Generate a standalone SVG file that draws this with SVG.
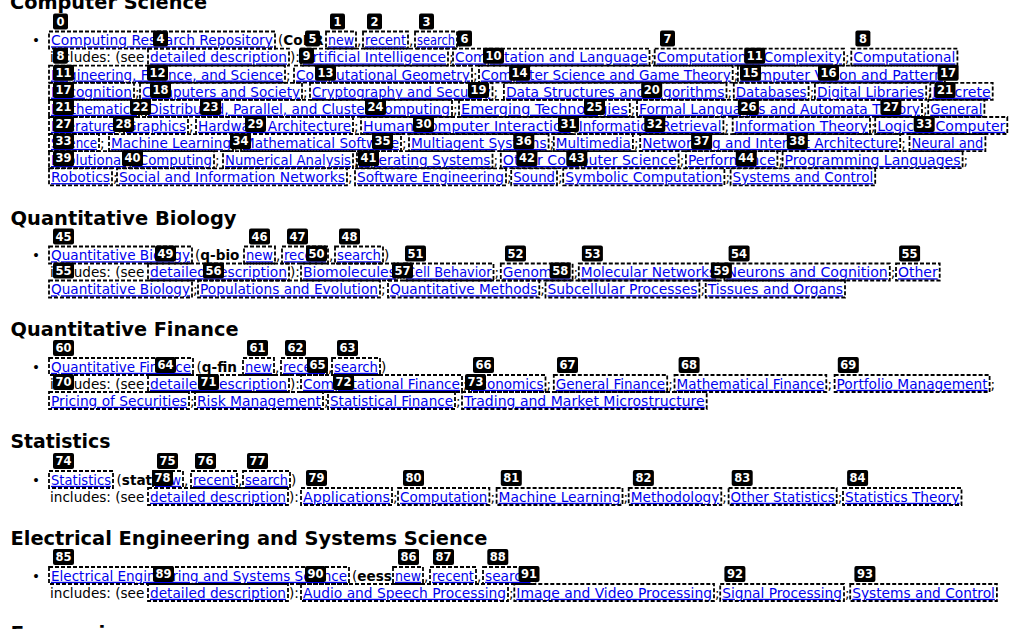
<svg xmlns="http://www.w3.org/2000/svg" width="1024" height="629" viewBox="0 0 1024 629">
<style>
text{font-family:"DejaVu Sans","Liberation Sans",sans-serif}
.t{font-size:13.6px;fill:#000}
.a{font-size:13.6px;fill:#0000ee;text-decoration:underline}
.h{font-size:20px;font-weight:bold;fill:#000}
.b{fill:none;stroke:#000;stroke-width:1.8;stroke-dasharray:4 2}
.k{fill:#000}
.n{font-size:11.5px;font-weight:bold;fill:#fff;text-anchor:middle}
</style>
<rect width="1024" height="629" fill="#fff"/>
<g id="headings">
<text class="h" x="10" y="8.5" textLength="197" lengthAdjust="spacingAndGlyphs">Computer Science</text>
<text class="h" x="10.5" y="225" textLength="226" lengthAdjust="spacingAndGlyphs">Quantitative Biology</text>
<text class="h" x="10.5" y="336" textLength="228" lengthAdjust="spacingAndGlyphs">Quantitative Finance</text>
<text class="h" x="10.5" y="448" textLength="100" lengthAdjust="spacingAndGlyphs">Statistics</text>
<text class="h" x="10.5" y="545" textLength="477" lengthAdjust="spacingAndGlyphs">Electrical Engineering and Systems Science</text>
<text class="h" x="10.5" y="640">Economics</text>
</g>
<g id="cs">
<text class="t" x="32" y="45.3">•</text>
<text class="a" x="51" y="45.3" textLength="222" lengthAdjust="spacingAndGlyphs">Computing Research Repository</text>
<text class="t" x="278" y="45.3">(<tspan font-weight="bold">CoRR</tspan></text>
<text class="a" x="328" y="45.3" textLength="26" lengthAdjust="spacingAndGlyphs">new</text>
<text class="t" x="357" y="45.3">,</text>
<text class="a" x="365" y="45.3" textLength="41" lengthAdjust="spacingAndGlyphs">recent</text>
<text class="t" x="409" y="45.3">,</text>
<text class="a" x="417" y="45.3" textLength="38" lengthAdjust="spacingAndGlyphs">search</text>
<text class="t" x="458" y="45.3">)</text>
<rect class="b" x="49" y="31.5" width="226" height="17"/>
<rect class="b" x="326" y="31.5" width="30" height="17"/>
<rect class="b" x="363" y="31.5" width="45" height="17"/>
<rect class="b" x="415" y="31.5" width="42" height="17"/>

<text class="t" x="50" y="62.4">includes: (see</text>
<text class="a" x="150" y="62.4" textLength="137" lengthAdjust="spacingAndGlyphs">detailed description</text>
<text class="t" x="290" y="62.4">):</text>
<text class="a" x="303" y="62.4" textLength="143" lengthAdjust="spacingAndGlyphs">Artificial Intelligence</text>
<text class="t" x="449" y="62.4">;</text>
<text class="a" x="455" y="62.4" textLength="192.5" lengthAdjust="spacingAndGlyphs">Computation and Language</text>
<text class="t" x="650.5" y="62.4">;</text>
<text class="a" x="656.7" y="62.4" textLength="185.3" lengthAdjust="spacingAndGlyphs">Computational Complexity</text>
<text class="t" x="845" y="62.4">;</text>
<text class="a" x="853.3" y="62.4" textLength="102.1" lengthAdjust="spacingAndGlyphs">Computational</text>
<rect class="b" x="148" y="48.6" width="141" height="17"/>
<rect class="b" x="301" y="48.6" width="147" height="17"/>
<rect class="b" x="453" y="48.6" width="196.5" height="17"/>
<rect class="b" x="654.7" y="48.6" width="189.3" height="17"/>
<rect class="b" x="851.3" y="48.6" width="106.1" height="17"/>

<text class="a" x="51" y="79.5" textLength="232" lengthAdjust="spacingAndGlyphs">Engineering, Finance, and Science</text>
<text class="t" x="286" y="79.5">;</text>
<text class="a" x="296" y="79.5" textLength="174" lengthAdjust="spacingAndGlyphs">Computational Geometry</text>
<text class="t" x="473" y="79.5">;</text>
<text class="a" x="481" y="79.5" textLength="249.7" lengthAdjust="spacingAndGlyphs">Computer Science and Game Theory</text>
<text class="t" x="733.7" y="79.5">;</text>
<text class="a" x="739.9" y="79.5" textLength="203" lengthAdjust="spacingAndGlyphs">Computer Vision and Pattern</text>
<rect class="b" x="49" y="65.7" width="236" height="17"/>
<rect class="b" x="294" y="65.7" width="178" height="17"/>
<rect class="b" x="479" y="65.7" width="253.7" height="17"/>
<rect class="b" x="737.9" y="65.7" width="207" height="17"/>

<text class="a" x="51" y="96.6" textLength="81" lengthAdjust="spacingAndGlyphs">Recognition</text>
<text class="t" x="135" y="96.6">;</text>
<text class="a" x="142" y="96.6" textLength="158" lengthAdjust="spacingAndGlyphs">Computers and Society</text>
<text class="t" x="303" y="96.6">;</text>
<text class="a" x="312" y="96.6" textLength="178.5" lengthAdjust="spacingAndGlyphs">Cryptography and Security</text>
<text class="t" x="493.5" y="96.6">;</text>
<text class="a" x="505.9" y="96.6" textLength="218.6" lengthAdjust="spacingAndGlyphs">Data Structures and Algorithms</text>
<text class="t" x="727.5" y="96.6">;</text>
<text class="a" x="735.8" y="96.6" textLength="70.8" lengthAdjust="spacingAndGlyphs">Databases</text>
<text class="t" x="809.7" y="96.6">;</text>
<text class="a" x="816.9" y="96.6" textLength="107.3" lengthAdjust="spacingAndGlyphs">Digital Libraries</text>
<text class="t" x="927.2" y="96.6">;</text>
<text class="a" x="932.3" y="96.6" textLength="58.4" lengthAdjust="spacingAndGlyphs">Discrete</text>
<rect class="b" x="49" y="82.8" width="85" height="17"/>
<rect class="b" x="140" y="82.8" width="162" height="17"/>
<rect class="b" x="310" y="82.8" width="182.5" height="17"/>
<rect class="b" x="503.9" y="82.8" width="222.6" height="17"/>
<rect class="b" x="733.8" y="82.8" width="74.8" height="17"/>
<rect class="b" x="814.9" y="82.8" width="111.3" height="17"/>
<rect class="b" x="930.3" y="82.8" width="62.4" height="17"/>

<text class="a" x="51" y="113.7" textLength="86" lengthAdjust="spacingAndGlyphs">Mathematics</text>
<text class="t" x="140" y="113.7">;</text>
<text class="a" x="148" y="113.7" textLength="302" lengthAdjust="spacingAndGlyphs">Distributed, Parallel, and Cluster Computing</text>
<text class="t" x="453" y="113.7">;</text>
<text class="a" x="461" y="113.7" textLength="166.8" lengthAdjust="spacingAndGlyphs">Emerging Technologies</text>
<text class="t" x="630.8" y="113.7">;</text>
<text class="a" x="639" y="113.7" textLength="281" lengthAdjust="spacingAndGlyphs">Formal Languages and Automata Theory</text>
<text class="t" x="923" y="113.7">;</text>
<text class="a" x="930.2" y="113.7" textLength="52.2" lengthAdjust="spacingAndGlyphs">General</text>
<rect class="b" x="49" y="99.9" width="90" height="17"/>
<rect class="b" x="146" y="99.9" width="306" height="17"/>
<rect class="b" x="459" y="99.9" width="170.8" height="17"/>
<rect class="b" x="637" y="99.9" width="285" height="17"/>
<rect class="b" x="928.2" y="99.9" width="56.2" height="17"/>

<text class="a" x="51" y="130.8" textLength="64" lengthAdjust="spacingAndGlyphs">Literature</text>
<text class="t" x="118" y="130.8">;</text>
<text class="a" x="126" y="130.8" textLength="60" lengthAdjust="spacingAndGlyphs">Graphics</text>
<text class="t" x="189" y="130.8">;</text>
<text class="a" x="198" y="130.8" textLength="153" lengthAdjust="spacingAndGlyphs">Hardware Architecture</text>
<text class="t" x="354" y="130.8">;</text>
<text class="a" x="363" y="130.8" textLength="207.6" lengthAdjust="spacingAndGlyphs">Human-Computer Interaction</text>
<text class="t" x="573.6" y="130.8">;</text>
<text class="a" x="578.7" y="130.8" textLength="142.7" lengthAdjust="spacingAndGlyphs">Information Retrieval</text>
<text class="t" x="724.4" y="130.8">;</text>
<text class="a" x="734.7" y="130.8" textLength="133.3" lengthAdjust="spacingAndGlyphs">Information Theory</text>
<text class="t" x="871" y="130.8">;</text>
<text class="a" x="877.2" y="130.8" textLength="128.1" lengthAdjust="spacingAndGlyphs">Logic in Computer</text>
<rect class="b" x="49" y="117" width="68" height="17"/>
<rect class="b" x="124" y="117" width="64" height="17"/>
<rect class="b" x="196" y="117" width="157" height="17"/>
<rect class="b" x="361" y="117" width="211.6" height="17"/>
<rect class="b" x="576.7" y="117" width="146.7" height="17"/>
<rect class="b" x="732.7" y="117" width="137.3" height="17"/>
<rect class="b" x="875.2" y="117" width="132.1" height="17"/>

<text class="a" x="51" y="147.9" textLength="46" lengthAdjust="spacingAndGlyphs">Science</text>
<text class="t" x="100" y="147.9">;</text>
<text class="a" x="111" y="147.9" textLength="120" lengthAdjust="spacingAndGlyphs">Machine Learning</text>
<text class="t" x="234" y="147.9">;</text>
<text class="a" x="243" y="147.9" textLength="156" lengthAdjust="spacingAndGlyphs">Mathematical Software</text>
<text class="t" x="402" y="147.9">;</text>
<text class="a" x="411" y="147.9" textLength="135.6" lengthAdjust="spacingAndGlyphs">Multiagent Systems</text>
<text class="t" x="549.7" y="147.9">;</text>
<text class="a" x="555.8" y="147.9" textLength="75.1" lengthAdjust="spacingAndGlyphs">Multimedia</text>
<text class="t" x="633.9" y="147.9">;</text>
<text class="a" x="642.2" y="147.9" textLength="256" lengthAdjust="spacingAndGlyphs">Networking and Internet Architecture</text>
<text class="t" x="901.2" y="147.9">;</text>
<text class="a" x="911.5" y="147.9" textLength="71.9" lengthAdjust="spacingAndGlyphs">Neural and</text>
<rect class="b" x="49" y="134.1" width="50" height="17"/>
<rect class="b" x="109" y="134.1" width="124" height="17"/>
<rect class="b" x="241" y="134.1" width="160" height="17"/>
<rect class="b" x="409" y="134.1" width="139.6" height="17"/>
<rect class="b" x="553.8" y="134.1" width="79.1" height="17"/>
<rect class="b" x="640.2" y="134.1" width="260" height="17"/>
<rect class="b" x="909.5" y="134.1" width="75.9" height="17"/>

<text class="a" x="51" y="165" textLength="161" lengthAdjust="spacingAndGlyphs">Evolutionary Computing</text>
<text class="t" x="215" y="165">;</text>
<text class="a" x="225" y="165" textLength="126" lengthAdjust="spacingAndGlyphs">Numerical Analysis</text>
<text class="t" x="354" y="165">;</text>
<text class="a" x="359" y="165" textLength="131.5" lengthAdjust="spacingAndGlyphs">Operating Systems</text>
<text class="t" x="493.5" y="165">;</text>
<text class="a" x="502.8" y="165" textLength="173.8" lengthAdjust="spacingAndGlyphs">Other Computer Science</text>
<text class="t" x="679.7" y="165">;</text>
<text class="a" x="687.9" y="165" textLength="87.5" lengthAdjust="spacingAndGlyphs">Performance</text>
<text class="t" x="778.5" y="165">;</text>
<text class="a" x="784.6" y="165" textLength="176" lengthAdjust="spacingAndGlyphs">Programming Languages</text>
<text class="t" x="963.6" y="165">;</text>
<rect class="b" x="49" y="151.2" width="165" height="17"/>
<rect class="b" x="223" y="151.2" width="130" height="17"/>
<rect class="b" x="357" y="151.2" width="135.5" height="17"/>
<rect class="b" x="500.8" y="151.2" width="177.8" height="17"/>
<rect class="b" x="685.9" y="151.2" width="91.5" height="17"/>
<rect class="b" x="782.6" y="151.2" width="180" height="17"/>

<text class="a" x="51" y="182.1" textLength="59" lengthAdjust="spacingAndGlyphs">Robotics</text>
<text class="t" x="113" y="182.1">;</text>
<text class="a" x="119" y="182.1" textLength="226" lengthAdjust="spacingAndGlyphs">Social and Information Networks</text>
<text class="t" x="348" y="182.1">;</text>
<text class="a" x="357" y="182.1" textLength="147" lengthAdjust="spacingAndGlyphs">Software Engineering</text>
<text class="t" x="507" y="182.1">;</text>
<text class="a" x="513.2" y="182.1" textLength="41.8" lengthAdjust="spacingAndGlyphs">Sound</text>
<text class="t" x="558" y="182.1">;</text>
<text class="a" x="565.2" y="182.1" textLength="157.2" lengthAdjust="spacingAndGlyphs">Symbolic Computation</text>
<text class="t" x="725.4" y="182.1">;</text>
<text class="a" x="732.6" y="182.1" textLength="140.6" lengthAdjust="spacingAndGlyphs">Systems and Control</text>
<rect class="b" x="49" y="168.3" width="63" height="17"/>
<rect class="b" x="117" y="168.3" width="230" height="17"/>
<rect class="b" x="355" y="168.3" width="151" height="17"/>
<rect class="b" x="511.2" y="168.3" width="45.8" height="17"/>
<rect class="b" x="563.2" y="168.3" width="161.2" height="17"/>
<rect class="b" x="730.6" y="168.3" width="144.6" height="17"/>
</g>

<g id="qb">
<text class="t" x="32" y="260.3">•</text>
<text class="a" x="51" y="260.3" textLength="139" lengthAdjust="spacingAndGlyphs">Quantitative Biology</text>
<text class="t" x="195" y="260.3">(<tspan font-weight="bold">q-bio</tspan></text>
<text class="a" x="246" y="260.3" textLength="27" lengthAdjust="spacingAndGlyphs">new</text>
<text class="t" x="276" y="260.3">,</text>
<text class="a" x="284" y="260.3" textLength="42" lengthAdjust="spacingAndGlyphs">recent</text>
<text class="t" x="329" y="260.3">,</text>
<text class="a" x="337" y="260.3" textLength="44" lengthAdjust="spacingAndGlyphs">search</text>
<text class="t" x="384" y="260.3">)</text>
<rect class="b" x="49" y="246.5" width="143" height="17"/>
<rect class="b" x="244" y="246.5" width="31" height="17"/>
<rect class="b" x="282" y="246.5" width="46" height="17"/>
<rect class="b" x="335" y="246.5" width="48" height="17"/>

<text class="t" x="50" y="277.3">includes: (see</text>
<text class="a" x="150" y="277.3" textLength="137" lengthAdjust="spacingAndGlyphs">detailed description</text>
<text class="t" x="290" y="277.3">):</text>
<text class="a" x="303" y="277.3" textLength="93" lengthAdjust="spacingAndGlyphs">Biomolecules</text>
<text class="t" x="399" y="277.3">;</text>
<text class="a" x="406" y="277.3" textLength="85.5" lengthAdjust="spacingAndGlyphs">Cell Behavior</text>
<text class="t" x="494.6" y="277.3">;</text>
<text class="a" x="502.8" y="277.3" textLength="67.8" lengthAdjust="spacingAndGlyphs">Genomics</text>
<text class="t" x="573.6" y="277.3">;</text>
<text class="a" x="580.8" y="277.3" textLength="135.4" lengthAdjust="spacingAndGlyphs">Molecular Networks</text>
<text class="t" x="719.2" y="277.3">;</text>
<text class="a" x="726.4" y="277.3" textLength="161.4" lengthAdjust="spacingAndGlyphs">Neurons and Cognition</text>
<text class="t" x="890.8" y="277.3">;</text>
<text class="a" x="898" y="277.3" textLength="39.7" lengthAdjust="spacingAndGlyphs">Other</text>
<rect class="b" x="148" y="263.5" width="141" height="17"/>
<rect class="b" x="301" y="263.5" width="97" height="17"/>
<rect class="b" x="404" y="263.5" width="89.5" height="17"/>
<rect class="b" x="500.8" y="263.5" width="71.8" height="17"/>
<rect class="b" x="578.8" y="263.5" width="139.4" height="17"/>
<rect class="b" x="724.4" y="263.5" width="165.4" height="17"/>
<rect class="b" x="896" y="263.5" width="43.7" height="17"/>

<text class="a" x="51" y="294.3" textLength="139" lengthAdjust="spacingAndGlyphs">Quantitative Biology</text>
<text class="t" x="193" y="294.3">;</text>
<text class="a" x="200" y="294.3" textLength="178" lengthAdjust="spacingAndGlyphs">Populations and Evolution</text>
<text class="t" x="381" y="294.3">;</text>
<text class="a" x="390" y="294.3" textLength="147.3" lengthAdjust="spacingAndGlyphs">Quantitative Methods</text>
<text class="t" x="540.3" y="294.3">;</text>
<text class="a" x="547.5" y="294.3" textLength="149.9" lengthAdjust="spacingAndGlyphs">Subcellular Processes</text>
<text class="t" x="700.5" y="294.3">;</text>
<text class="a" x="707.7" y="294.3" textLength="135.3" lengthAdjust="spacingAndGlyphs">Tissues and Organs</text>
<rect class="b" x="49" y="280.5" width="143" height="17"/>
<rect class="b" x="198" y="280.5" width="182" height="17"/>
<rect class="b" x="388" y="280.5" width="151.3" height="17"/>
<rect class="b" x="545.5" y="280.5" width="153.9" height="17"/>
<rect class="b" x="705.7" y="280.5" width="139.3" height="17"/>
</g>

<g id="qf">
<text class="t" x="32" y="371.8">•</text>
<text class="a" x="51" y="371.8" textLength="140" lengthAdjust="spacingAndGlyphs">Quantitative Finance</text>
<text class="t" x="196.5" y="371.8">(<tspan font-weight="bold">q-fin</tspan></text>
<text class="a" x="245" y="371.8" textLength="27" lengthAdjust="spacingAndGlyphs">new</text>
<text class="t" x="275" y="371.8">,</text>
<text class="a" x="283" y="371.8" textLength="42" lengthAdjust="spacingAndGlyphs">recent</text>
<text class="t" x="328" y="371.8">,</text>
<text class="a" x="334" y="371.8" textLength="44" lengthAdjust="spacingAndGlyphs">search</text>
<text class="t" x="381" y="371.8">)</text>
<rect class="b" x="49" y="358" width="144" height="17"/>
<rect class="b" x="243" y="358" width="31" height="17"/>
<rect class="b" x="281" y="358" width="46" height="17"/>
<rect class="b" x="332" y="358" width="48" height="17"/>

<text class="t" x="50" y="388.8">includes: (see</text>
<text class="a" x="150" y="388.8" textLength="137" lengthAdjust="spacingAndGlyphs">detailed description</text>
<text class="t" x="290" y="388.8">):</text>
<text class="a" x="303" y="388.8" textLength="157" lengthAdjust="spacingAndGlyphs">Computational Finance</text>
<text class="t" x="463" y="388.8">;</text>
<text class="a" x="471" y="388.8" textLength="72.5" lengthAdjust="spacingAndGlyphs">Economics</text>
<text class="t" x="546.6" y="388.8">;</text>
<text class="a" x="555.8" y="388.8" textLength="109.4" lengthAdjust="spacingAndGlyphs">General Finance</text>
<text class="t" x="668.2" y="388.8">;</text>
<text class="a" x="676.5" y="388.8" textLength="147.8" lengthAdjust="spacingAndGlyphs">Mathematical Finance</text>
<text class="t" x="827.4" y="388.8">;</text>
<text class="a" x="836.6" y="388.8" textLength="151" lengthAdjust="spacingAndGlyphs">Portfolio Management</text>
<text class="t" x="990.6" y="388.8">;</text>
<rect class="b" x="148" y="375" width="141" height="17"/>
<rect class="b" x="301" y="375" width="161" height="17"/>
<rect class="b" x="469" y="375" width="76.5" height="17"/>
<rect class="b" x="553.8" y="375" width="113.4" height="17"/>
<rect class="b" x="674.5" y="375" width="151.8" height="17"/>
<rect class="b" x="834.6" y="375" width="155" height="17"/>

<text class="a" x="51" y="405.8" textLength="136" lengthAdjust="spacingAndGlyphs">Pricing of Securities</text>
<text class="t" x="190" y="405.8">;</text>
<text class="a" x="197" y="405.8" textLength="124" lengthAdjust="spacingAndGlyphs">Risk Management</text>
<text class="t" x="324" y="405.8">;</text>
<text class="a" x="330" y="405.8" textLength="123" lengthAdjust="spacingAndGlyphs">Statistical Finance</text>
<text class="t" x="456" y="405.8">;</text>
<text class="a" x="464" y="405.8" textLength="240.7" lengthAdjust="spacingAndGlyphs">Trading and Market Microstructure</text>
<rect class="b" x="49" y="392" width="140" height="17"/>
<rect class="b" x="195" y="392" width="128" height="17"/>
<rect class="b" x="328" y="392" width="127" height="17"/>
<rect class="b" x="462" y="392" width="244.7" height="17"/>
</g>

<g id="stat">
<text class="t" x="32" y="484.8">•</text>
<text class="a" x="51" y="484.8" textLength="60" lengthAdjust="spacingAndGlyphs">Statistics</text>
<text class="t" x="116.5" y="484.8">(<tspan font-weight="bold">stat</tspan></text>
<text class="a" x="155" y="484.8" textLength="26" lengthAdjust="spacingAndGlyphs">new</text>
<text class="t" x="184" y="484.8">,</text>
<text class="a" x="193" y="484.8" textLength="42" lengthAdjust="spacingAndGlyphs">recent</text>
<text class="t" x="238" y="484.8">,</text>
<text class="a" x="245" y="484.8" textLength="43" lengthAdjust="spacingAndGlyphs">search</text>
<text class="t" x="291" y="484.8">)</text>
<rect class="b" x="49" y="471" width="64" height="17"/>
<rect class="b" x="153" y="471" width="30" height="17"/>
<rect class="b" x="191" y="471" width="46" height="17"/>
<rect class="b" x="243" y="471" width="47" height="17"/>

<text class="t" x="50" y="501.8">includes: (see</text>
<text class="a" x="150" y="501.8" textLength="136" lengthAdjust="spacingAndGlyphs">detailed description</text>
<text class="t" x="289" y="501.8">):</text>
<text class="a" x="303" y="501.8" textLength="87" lengthAdjust="spacingAndGlyphs">Applications</text>
<text class="t" x="393" y="501.8">;</text>
<text class="a" x="400" y="501.8" textLength="87.4" lengthAdjust="spacingAndGlyphs">Computation</text>
<text class="t" x="490.4" y="501.8">;</text>
<text class="a" x="498.6" y="501.8" textLength="121.9" lengthAdjust="spacingAndGlyphs">Machine Learning</text>
<text class="t" x="623.5" y="501.8">;</text>
<text class="a" x="630.7" y="501.8" textLength="88.6" lengthAdjust="spacingAndGlyphs">Methodology</text>
<text class="t" x="722.3" y="501.8">;</text>
<text class="a" x="730.6" y="501.8" textLength="104.1" lengthAdjust="spacingAndGlyphs">Other Statistics</text>
<text class="t" x="837.8" y="501.8">;</text>
<text class="a" x="845" y="501.8" textLength="114.5" lengthAdjust="spacingAndGlyphs">Statistics Theory</text>
<rect class="b" x="148" y="488" width="140" height="17"/>
<rect class="b" x="301" y="488" width="91" height="17"/>
<rect class="b" x="398" y="488" width="91.4" height="17"/>
<rect class="b" x="496.6" y="488" width="125.9" height="17"/>
<rect class="b" x="628.7" y="488" width="92.6" height="17"/>
<rect class="b" x="728.6" y="488" width="108.1" height="17"/>
<rect class="b" x="843" y="488" width="118.5" height="17"/>
</g>

<g id="eess">
<text class="t" x="32" y="580.8">•</text>
<text class="a" x="51" y="580.8" textLength="296" lengthAdjust="spacingAndGlyphs">Electrical Engineering and Systems Science</text>
<text class="t" x="352" y="580.8">(<tspan font-weight="bold">eess</tspan></text>
<text class="a" x="395" y="580.8" textLength="26" lengthAdjust="spacingAndGlyphs">new</text>
<text class="t" x="424" y="580.8">,</text>
<text class="a" x="432" y="580.8" textLength="42" lengthAdjust="spacingAndGlyphs">recent</text>
<text class="t" x="477" y="580.8">,</text>
<text class="a" x="485" y="580.8" textLength="45.5" lengthAdjust="spacingAndGlyphs">search</text>
<text class="t" x="534" y="580.8">)</text>
<rect class="b" x="49" y="567" width="300" height="17"/>
<rect class="b" x="393" y="567" width="30" height="17"/>
<rect class="b" x="430" y="567" width="46" height="17"/>
<rect class="b" x="483" y="567" width="49.5" height="17"/>

<text class="t" x="50" y="597.8">includes: (see</text>
<text class="a" x="150" y="597.8" textLength="136" lengthAdjust="spacingAndGlyphs">detailed description</text>
<text class="t" x="289" y="597.8">):</text>
<text class="a" x="303" y="597.8" textLength="203" lengthAdjust="spacingAndGlyphs">Audio and Speech Processing</text>
<text class="t" x="509" y="597.8">;</text>
<text class="a" x="516.3" y="597.8" textLength="195.7" lengthAdjust="spacingAndGlyphs">Image and Video Processing</text>
<text class="t" x="715" y="597.8">;</text>
<text class="a" x="722.2" y="597.8" textLength="119.8" lengthAdjust="spacingAndGlyphs">Signal Processing</text>
<text class="t" x="845" y="597.8">;</text>
<text class="a" x="852.2" y="597.8" textLength="142.7" lengthAdjust="spacingAndGlyphs">Systems and Control</text>
<rect class="b" x="148" y="584" width="140" height="17"/>
<rect class="b" x="301" y="584" width="207" height="17"/>
<rect class="b" x="514.3" y="584" width="199.7" height="17"/>
<rect class="b" x="720.2" y="584" width="123.8" height="17"/>
<rect class="b" x="850.2" y="584" width="146.7" height="17"/>
</g>

<g id="badges">
<rect class="k" x="53" y="13.5" width="15" height="16" rx="2"/><text class="n" x="60.5" y="25.5">0</text>
<rect class="k" x="330" y="13.5" width="15" height="16" rx="2"/><text class="n" x="337.5" y="25.5">1</text>
<rect class="k" x="367" y="13.5" width="15" height="16" rx="2"/><text class="n" x="374.5" y="25.5">2</text>
<rect class="k" x="419" y="13.5" width="15" height="16" rx="2"/><text class="n" x="426.5" y="25.5">3</text>

<rect class="k" x="153" y="30.6" width="15" height="16" rx="2"/><text class="n" x="160.5" y="42.6">4</text>
<rect class="k" x="305" y="30.6" width="15" height="16" rx="2"/><text class="n" x="312.5" y="42.6">5</text>
<rect class="k" x="457" y="30.6" width="15" height="16" rx="2"/><text class="n" x="464.5" y="42.6">6</text>
<rect class="k" x="660" y="30.6" width="15" height="16" rx="2"/><text class="n" x="667.5" y="42.6">7</text>
<rect class="k" x="855.4" y="30.6" width="15" height="16" rx="2"/><text class="n" x="862.9" y="42.6">8</text>

<rect class="k" x="53" y="47.7" width="15" height="16" rx="2"/><text class="n" x="60.5" y="59.7">8</text>
<rect class="k" x="299" y="47.7" width="15" height="16" rx="2"/><text class="n" x="306.5" y="59.7">9</text>
<rect class="k" x="483" y="47.7" width="21" height="16" rx="2"/><text class="n" x="493.5" y="59.7">10</text>
<rect class="k" x="744.2" y="47.7" width="21" height="16" rx="2"/><text class="n" x="754.7" y="59.7">11</text>

<rect class="k" x="53" y="64.8" width="21" height="16" rx="2"/><text class="n" x="63.5" y="76.8">11</text>
<rect class="k" x="147" y="64.8" width="21" height="16" rx="2"/><text class="n" x="157.5" y="76.8">12</text>
<rect class="k" x="315" y="64.8" width="21" height="16" rx="2"/><text class="n" x="325.5" y="76.8">13</text>
<rect class="k" x="509.1" y="64.8" width="21" height="16" rx="2"/><text class="n" x="519.6" y="76.8">14</text>
<rect class="k" x="740" y="64.8" width="21" height="16" rx="2"/><text class="n" x="750.5" y="76.8">15</text>
<rect class="k" x="818" y="64.8" width="21" height="16" rx="2"/><text class="n" x="828.5" y="76.8">16</text>
<rect class="k" x="937.6" y="64.8" width="21" height="16" rx="2"/><text class="n" x="948.1" y="76.8">17</text>

<rect class="k" x="53" y="81.9" width="21" height="16" rx="2"/><text class="n" x="63.5" y="93.9">17</text>
<rect class="k" x="150" y="81.9" width="21" height="16" rx="2"/><text class="n" x="160.5" y="93.9">18</text>
<rect class="k" x="468" y="81.9" width="21" height="16" rx="2"/><text class="n" x="478.5" y="93.9">19</text>
<rect class="k" x="641.2" y="81.9" width="21" height="16" rx="2"/><text class="n" x="651.7" y="93.9">20</text>
<rect class="k" x="934.5" y="81.9" width="21" height="16" rx="2"/><text class="n" x="945" y="93.9">21</text>

<rect class="k" x="53" y="99" width="21" height="16" rx="2"/><text class="n" x="63.5" y="111">21</text>
<rect class="k" x="130" y="99" width="21" height="16" rx="2"/><text class="n" x="140.5" y="111">22</text>
<rect class="k" x="200" y="99" width="21" height="16" rx="2"/><text class="n" x="210.5" y="111">23</text>
<rect class="k" x="365" y="99" width="21" height="16" rx="2"/><text class="n" x="375.5" y="111">24</text>
<rect class="k" x="584" y="99" width="21" height="16" rx="2"/><text class="n" x="594.5" y="111">25</text>
<rect class="k" x="737.9" y="99" width="21" height="16" rx="2"/><text class="n" x="748.4" y="111">26</text>
<rect class="k" x="880.4" y="99" width="21" height="16" rx="2"/><text class="n" x="890.9" y="111">27</text>

<rect class="k" x="53" y="116.1" width="21" height="16" rx="2"/><text class="n" x="63.5" y="128.1">27</text>
<rect class="k" x="113" y="116.1" width="21" height="16" rx="2"/><text class="n" x="123.5" y="128.1">28</text>
<rect class="k" x="245" y="116.1" width="21" height="16" rx="2"/><text class="n" x="255.5" y="128.1">29</text>
<rect class="k" x="413" y="116.1" width="21" height="16" rx="2"/><text class="n" x="423.5" y="128.1">30</text>
<rect class="k" x="558" y="116.1" width="21" height="16" rx="2"/><text class="n" x="568.5" y="128.1">31</text>
<rect class="k" x="644.3" y="116.1" width="21" height="16" rx="2"/><text class="n" x="654.8" y="128.1">32</text>
<rect class="k" x="913.7" y="116.1" width="21" height="16" rx="2"/><text class="n" x="924.2" y="128.1">33</text>

<rect class="k" x="53" y="133.2" width="21" height="16" rx="2"/><text class="n" x="63.5" y="145.2">33</text>
<rect class="k" x="230" y="133.2" width="21" height="16" rx="2"/><text class="n" x="240.5" y="145.2">34</text>
<rect class="k" x="372" y="133.2" width="21" height="16" rx="2"/><text class="n" x="382.5" y="145.2">35</text>
<rect class="k" x="513.3" y="133.2" width="21" height="16" rx="2"/><text class="n" x="523.8" y="145.2">36</text>
<rect class="k" x="691.1" y="133.2" width="21" height="16" rx="2"/><text class="n" x="701.6" y="145.2">37</text>
<rect class="k" x="786.8" y="133.2" width="21" height="16" rx="2"/><text class="n" x="797.3" y="145.2">38</text>

<rect class="k" x="53" y="150.3" width="21" height="16" rx="2"/><text class="n" x="63.5" y="162.3">39</text>
<rect class="k" x="122" y="150.3" width="21" height="16" rx="2"/><text class="n" x="132.5" y="162.3">40</text>
<rect class="k" x="358" y="150.3" width="21" height="16" rx="2"/><text class="n" x="368.5" y="162.3">41</text>
<rect class="k" x="516.4" y="150.3" width="21" height="16" rx="2"/><text class="n" x="526.9" y="162.3">42</text>
<rect class="k" x="566.3" y="150.3" width="21" height="16" rx="2"/><text class="n" x="576.8" y="162.3">43</text>
<rect class="k" x="735.8" y="150.3" width="21" height="16" rx="2"/><text class="n" x="746.3" y="162.3">44</text>

<rect class="k" x="53" y="228.5" width="21" height="16" rx="2"/><text class="n" x="63.5" y="240.5">45</text>
<rect class="k" x="249" y="228.5" width="21" height="16" rx="2"/><text class="n" x="259.5" y="240.5">46</text>
<rect class="k" x="287" y="228.5" width="21" height="16" rx="2"/><text class="n" x="297.5" y="240.5">47</text>
<rect class="k" x="339" y="228.5" width="21" height="16" rx="2"/><text class="n" x="349.5" y="240.5">48</text>

<rect class="k" x="155" y="245.5" width="21" height="16" rx="2"/><text class="n" x="165.5" y="257.5">49</text>
<rect class="k" x="306" y="245.5" width="21" height="16" rx="2"/><text class="n" x="316.5" y="257.5">50</text>
<rect class="k" x="405" y="245.5" width="21" height="16" rx="2"/><text class="n" x="415.5" y="257.5">51</text>
<rect class="k" x="505" y="245.5" width="21" height="16" rx="2"/><text class="n" x="515.5" y="257.5">52</text>
<rect class="k" x="581.9" y="245.5" width="21" height="16" rx="2"/><text class="n" x="592.4" y="257.5">53</text>
<rect class="k" x="728.6" y="245.5" width="21" height="16" rx="2"/><text class="n" x="739.1" y="257.5">54</text>
<rect class="k" x="899.1" y="245.5" width="21" height="16" rx="2"/><text class="n" x="909.6" y="257.5">55</text>

<rect class="k" x="53" y="262.5" width="21" height="16" rx="2"/><text class="n" x="63.5" y="274.5">55</text>
<rect class="k" x="203" y="262.5" width="21" height="16" rx="2"/><text class="n" x="213.5" y="274.5">56</text>
<rect class="k" x="392" y="262.5" width="21" height="16" rx="2"/><text class="n" x="402.5" y="274.5">57</text>
<rect class="k" x="549.7" y="262.5" width="21" height="16" rx="2"/><text class="n" x="560.2" y="274.5">58</text>
<rect class="k" x="710.9" y="262.5" width="21" height="16" rx="2"/><text class="n" x="721.4" y="274.5">59</text>

<rect class="k" x="53" y="340" width="21" height="16" rx="2"/><text class="n" x="63.5" y="352">60</text>
<rect class="k" x="247" y="340" width="21" height="16" rx="2"/><text class="n" x="257.5" y="352">61</text>
<rect class="k" x="285" y="340" width="21" height="16" rx="2"/><text class="n" x="295.5" y="352">62</text>
<rect class="k" x="337" y="340" width="21" height="16" rx="2"/><text class="n" x="347.5" y="352">63</text>

<rect class="k" x="155" y="357" width="21" height="16" rx="2"/><text class="n" x="165.5" y="369">64</text>
<rect class="k" x="307" y="357" width="21" height="16" rx="2"/><text class="n" x="317.5" y="369">65</text>
<rect class="k" x="473" y="357" width="21" height="16" rx="2"/><text class="n" x="483.5" y="369">66</text>
<rect class="k" x="557" y="357" width="21" height="16" rx="2"/><text class="n" x="567.5" y="369">67</text>
<rect class="k" x="678.6" y="357" width="21" height="16" rx="2"/><text class="n" x="689.1" y="369">68</text>
<rect class="k" x="837.8" y="357" width="21" height="16" rx="2"/><text class="n" x="848.3" y="369">69</text>

<rect class="k" x="53" y="374" width="21" height="16" rx="2"/><text class="n" x="63.5" y="386">70</text>
<rect class="k" x="198" y="374" width="21" height="16" rx="2"/><text class="n" x="208.5" y="386">71</text>
<rect class="k" x="333" y="374" width="21" height="16" rx="2"/><text class="n" x="343.5" y="386">72</text>
<rect class="k" x="465" y="374" width="21" height="16" rx="2"/><text class="n" x="475.5" y="386">73</text>

<rect class="k" x="53" y="453" width="21" height="16" rx="2"/><text class="n" x="63.5" y="465">74</text>
<rect class="k" x="157" y="453" width="21" height="16" rx="2"/><text class="n" x="167.5" y="465">75</text>
<rect class="k" x="195" y="453" width="21" height="16" rx="2"/><text class="n" x="205.5" y="465">76</text>
<rect class="k" x="247" y="453" width="21" height="16" rx="2"/><text class="n" x="257.5" y="465">77</text>

<rect class="k" x="152" y="470" width="21" height="16" rx="2"/><text class="n" x="162.5" y="482">78</text>
<rect class="k" x="306" y="470" width="21" height="16" rx="2"/><text class="n" x="316.5" y="482">79</text>
<rect class="k" x="403" y="470" width="21" height="16" rx="2"/><text class="n" x="413.5" y="482">80</text>
<rect class="k" x="500.8" y="470" width="21" height="16" rx="2"/><text class="n" x="511.3" y="482">81</text>
<rect class="k" x="632.9" y="470" width="21" height="16" rx="2"/><text class="n" x="643.4" y="482">82</text>
<rect class="k" x="731.7" y="470" width="21" height="16" rx="2"/><text class="n" x="742.2" y="482">83</text>
<rect class="k" x="847.1" y="470" width="21" height="16" rx="2"/><text class="n" x="857.6" y="482">84</text>

<rect class="k" x="53" y="549" width="21" height="16" rx="2"/><text class="n" x="63.5" y="561">85</text>
<rect class="k" x="398" y="549" width="21" height="16" rx="2"/><text class="n" x="408.5" y="561">86</text>
<rect class="k" x="433" y="549" width="21" height="16" rx="2"/><text class="n" x="443.5" y="561">87</text>
<rect class="k" x="487.3" y="549" width="21" height="16" rx="2"/><text class="n" x="497.8" y="561">88</text>

<rect class="k" x="153" y="566" width="21" height="16" rx="2"/><text class="n" x="163.5" y="578">89</text>
<rect class="k" x="305" y="566" width="21" height="16" rx="2"/><text class="n" x="315.5" y="578">90</text>
<rect class="k" x="518.5" y="566" width="21" height="16" rx="2"/><text class="n" x="529" y="578">91</text>
<rect class="k" x="724.4" y="566" width="21" height="16" rx="2"/><text class="n" x="734.9" y="578">92</text>
<rect class="k" x="854.4" y="566" width="21" height="16" rx="2"/><text class="n" x="864.9" y="578">93</text>
</g>
</svg>
